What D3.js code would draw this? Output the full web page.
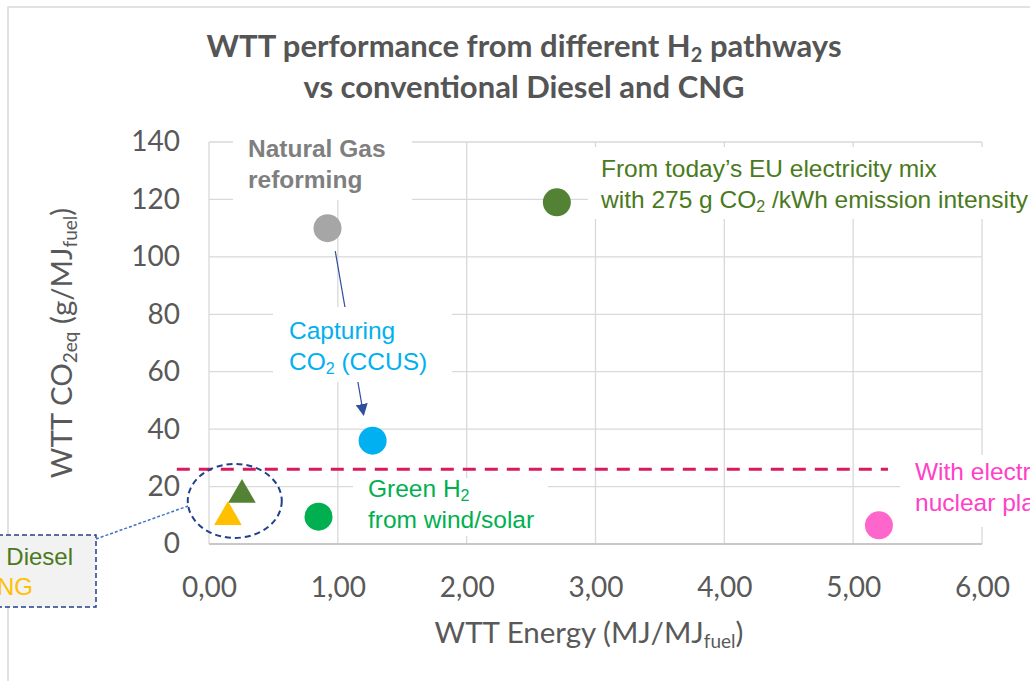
<!DOCTYPE html>
<html>
<head>
<meta charset="utf-8">
<script src="https://cdn.jsdelivr.net/npm/d3@7"></script>
<style>
  body { margin: 0; background: #fff; }
  svg { display: block; }
</style>
</head>
<body>
<div id="chart"></div>
<script>
// H2 pathways (circles)
const pathways = ["Natural Gas reforming", "CCUS", "EU electricity mix", "Green H2", "Nuclear"];
const pathEnergy = [0.92, 1.27, 2.70, 0.85, 5.20];
const pathCo2 = [110, 36, 119, 9.5, 6.5];
const pathColors = ["#a6a6a6", "#00b0f0", "#548235", "#00b050", "#ff66cc"];

// conventional fuels (triangles)
const fuels = ["Diesel", "CNG"];
const fuelEnergy = [0.256, 0.147];
const fuelCo2 = [17.1, 9.4];
const fuelColors = ["#548235", "#ffc000"];

const threshold = 26;
const xTicks = [0, 1, 2, 3, 4, 5, 6];
const yTicks = [0, 20, 40, 60, 80, 100, 120, 140];

const W = 1030, H = 681;
const margin = { left: 209, right: 48, top: 142, bottom: 137 };

const x = d3.scaleLinear().domain([0, 6]).range([margin.left, W - margin.right]);
const y = d3.scaleLinear().domain([0, 140]).range([H - margin.bottom, margin.top]);

const svg = d3.select("#chart").append("svg").attr("width", W).attr("height", H);

const calib = "Lato, 'Open Sans', sans-serif";
const arial = "'Liberation Sans', Arial, sans-serif";

// rich text helper: parts = [[text, isSub], ...]
function rich(sel, parts, subSize) {
  parts.forEach(([t, sub]) => {
    const ts = sel.append("tspan").text(t);
    if (sub) ts.attr("baseline-shift", "-25%").attr("font-size", subSize);
  });
  return sel;
}

// outer frame
svg.append("path")
  .attr("d", `M8,${H} V7 H${W}`)
  .attr("fill", "none").attr("stroke", "#d9d9d9").attr("stroke-width", 1.5);

// gridlines
const grid = svg.append("g").attr("stroke", "#d9d9d9").attr("stroke-width", 1.3);
grid.selectAll(".gy").data(yTicks).join("line")
  .attr("x1", x(0)).attr("x2", x(6))
  .attr("y1", d => y(d)).attr("y2", d => y(d));
grid.selectAll(".gx").data(xTicks).join("line")
  .attr("y1", y(0)).attr("y2", y(140))
  .attr("x1", d => x(d)).attr("x2", d => x(d));
svg.append("line")
  .attr("x1", x(0)).attr("x2", x(6)).attr("y1", y(0)).attr("y2", y(0))
  .attr("stroke", "#bfbfbf").attr("stroke-width", 1.5);

// arrow gas reforming -> CCUS (behind label box)
svg.append("defs").append("marker")
  .attr("id", "arr").attr("viewBox", "0 0 10 10")
  .attr("refX", 9).attr("refY", 5)
  .attr("markerWidth", 12).attr("markerHeight", 12)
  .attr("markerUnits", "userSpaceOnUse")
  .attr("orient", "auto")
  .append("path").attr("d", "M0,0 L10,5 L0,10 z").attr("fill", "#2f4ea0");

svg.append("line")
  .attr("x1", x(0.98)).attr("y1", y(102))
  .attr("x2", x(1.20)).attr("y2", y(45))
  .attr("stroke", "#2f4ea0").attr("stroke-width", 1.2)
  .attr("marker-end", "url(#arr)");

// white label backgrounds
const boxes = [
  [233, 136, 179, 64],
  [588, 147, 450, 72],
  [273, 307, 179, 75],
  [353, 478, 195, 58],
  [900, 455, 140, 72]
];
svg.append("g").selectAll("rect").data(boxes).join("rect")
  .attr("x", d => d[0]).attr("y", d => d[1])
  .attr("width", d => d[2]).attr("height", d => d[3])
  .attr("fill", "#fff");

// threshold line
svg.append("line")
  .attr("x1", x(-0.25)).attr("x2", x(5.27))
  .attr("y1", y(threshold)).attr("y2", y(threshold))
  .attr("stroke", "#d81b60").attr("stroke-width", 3)
  .attr("stroke-dasharray", "13,9");

// axes
const yAxis = svg.append("g")
  .attr("transform", `translate(${x(0)},0)`)
  .call(d3.axisLeft(y).tickValues(yTicks).tickSize(0).tickPadding(29));
const xAxis = svg.append("g")
  .attr("transform", `translate(0,${y(0)})`)
  .call(d3.axisBottom(x).tickValues(xTicks).tickSize(0).tickPadding(33)
    .tickFormat(d => d3.format(".2f")(d).replace(".", ",")));
[xAxis, yAxis].forEach(a => {
  a.select(".domain").remove();
  a.selectAll("text").attr("font-family", calib).attr("font-size", 28).attr("fill", "#595959");
});

// title
const title = svg.append("text")
  .attr("text-anchor", "middle").attr("font-family", calib)
  .attr("font-weight", 700).attr("font-size", 31).attr("fill", "#555555");
rich(title.append("tspan").attr("x", 524).attr("y", 57),
  [["WTT performance from different H", false], ["2", true], [" pathways", false]], 20);
title.append("tspan").attr("x", 524).attr("y", 98).text("vs conventional Diesel and CNG");

// axis titles
rich(svg.append("text")
  .attr("x", 589).attr("y", 643).attr("text-anchor", "middle")
  .attr("font-family", calib).attr("font-size", 29.5).attr("fill", "#595959"),
  [["WTT Energy (MJ/MJ", false], ["fuel", true], [")", false]], 19);

rich(svg.append("text")
  .attr("transform", "translate(72,343) rotate(-90)").attr("text-anchor", "middle")
  .attr("font-family", calib).attr("font-size", 29.5).attr("fill", "#595959"),
  [["WTT CO", false], ["2eq", true], [" (g/MJ", false], ["fuel", true], [")", false]], 19);

// annotation labels
function label(lines, px, py, color, bold) {
  const t = svg.append("text").attr("font-family", arial).attr("font-size", 24.5)
    .attr("fill", color).attr("font-weight", bold ? 700 : 400);
  lines.forEach((parts, i) => rich(t.append("tspan").attr("x", px).attr("y", py + i * 31), parts, 16));
}
label([[["Natural Gas", false]], [["reforming", false]]], 248, 157, "#7f7f7f", true);
label([[["From today\u2019s EU electricity mix", false]],
       [["with 275 g CO", false], ["2", true], [" /kWh emission intensity", false]]], 601, 177, "#4a7a1c");
label([[["Capturing", false]], [["CO", false], ["2", true], [" (CCUS)", false]]], 289, 339, "#00b0f0");
label([[["Green H", false], ["2", true]], [["from wind/solar", false]]], 368, 497, "#00b050");
label([[["With electricity from", false]], [["nuclear plants", false]]], 915, 480, "#ff40c8");

// ellipse around conventional fuels + callout
svg.append("ellipse")
  .attr("cx", x(0.2)).attr("cy", y(15)).attr("rx", 47).attr("ry", 37)
  .attr("fill", "none").attr("stroke", "#203f8c").attr("stroke-width", 2)
  .attr("stroke-dasharray", "6,4");
svg.append("line")
  .attr("x1", 96).attr("y1", 539).attr("x2", 188).attr("y2", 506)
  .attr("stroke", "#4472c4").attr("stroke-width", 1.5).attr("stroke-dasharray", "3,2");
svg.append("rect")
  .attr("x", -10).attr("y", 535).attr("width", 106).attr("height", 72)
  .attr("fill", "#f2f2f2").attr("stroke", "#203f8c").attr("stroke-width", 1.5)
  .attr("stroke-dasharray", "5,3");
svg.append("text").attr("x", 73).attr("y", 565).attr("text-anchor", "end")
  .attr("font-family", arial).attr("font-size", 24).attr("fill", "#4a7a1c")
  .text("Conventional Diesel");
svg.append("text").attr("x", 33).attr("y", 595).attr("text-anchor", "end")
  .attr("font-family", arial).attr("font-size", 24).attr("fill", "#ffc000")
  .text("CNG");

// markers
svg.append("g").selectAll("path").data(fuels).join("path")
  .attr("transform", (d, i) => `translate(${x(fuelEnergy[i])},${y(fuelCo2[i])})`)
  .attr("d", d3.symbol(d3.symbolTriangle, 330))
  .attr("fill", (d, i) => fuelColors[i]);

svg.append("g").selectAll("circle").data(pathways).join("circle")
  .attr("cx", (d, i) => x(pathEnergy[i]))
  .attr("cy", (d, i) => y(pathCo2[i]))
  .attr("r", 14)
  .attr("fill", (d, i) => pathColors[i]);
</script>
</body>
</html>
